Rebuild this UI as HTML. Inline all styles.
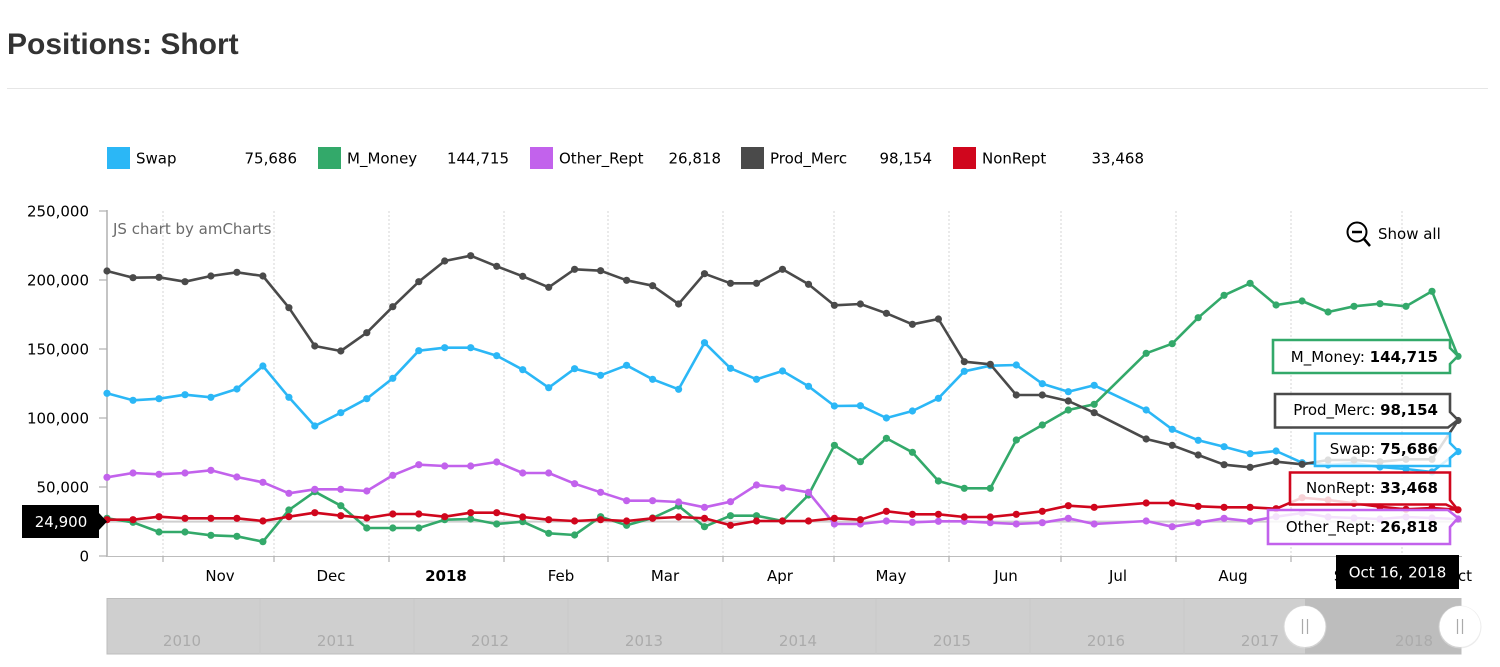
<!DOCTYPE html>
<html>
<head>
<meta charset="utf-8">
<style>
  html,body{margin:0;padding:0;background:#fff;}
  body{width:1500px;height:667px;overflow:hidden;}
  svg{display:block;}
  .t{font-family:"DejaVu Sans","Liberation Sans",sans-serif;font-size:15px;}
</style>
</head>
<body>
<svg width="1500" height="667" viewBox="0 0 1500 667" xmlns="http://www.w3.org/2000/svg">
  <defs>
    <marker id="mSwap" markerUnits="userSpaceOnUse" markerWidth="10" markerHeight="10" refX="5" refY="5"><circle cx="5" cy="5" r="3.6" fill="#2bb7f6"/></marker>
    <marker id="mMM" markerUnits="userSpaceOnUse" markerWidth="10" markerHeight="10" refX="5" refY="5"><circle cx="5" cy="5" r="3.6" fill="#33a96a"/></marker>
    <marker id="mOR" markerUnits="userSpaceOnUse" markerWidth="10" markerHeight="10" refX="5" refY="5"><circle cx="5" cy="5" r="3.6" fill="#c262ec"/></marker>
    <marker id="mPM" markerUnits="userSpaceOnUse" markerWidth="10" markerHeight="10" refX="5" refY="5"><circle cx="5" cy="5" r="3.6" fill="#4a4a4a"/></marker>
    <marker id="mNR" markerUnits="userSpaceOnUse" markerWidth="10" markerHeight="10" refX="5" refY="5"><circle cx="5" cy="5" r="3.6" fill="#d0061d"/></marker>
  </defs>

  <rect x="0" y="0" width="1500" height="667" fill="#fff"/>

  <!-- Title -->
  <text x="7" y="54" font-family="'Liberation Sans',sans-serif" font-weight="bold" font-size="30" fill="#333">Positions: Short</text>
  <line x1="7" y1="88.5" x2="1488" y2="88.5" stroke="#e6e6e6" stroke-width="1"/>

  <!-- Legend -->
  <g class="t" fill="#000">
    <rect x="107" y="147" width="23" height="22" fill="#2bb7f6"/>
    <text x="136" y="163.5">Swap</text>
    <text x="297" y="163.5" text-anchor="end">75,686</text>

    <rect x="318" y="147" width="23" height="22" fill="#33a96a"/>
    <text x="347" y="163.5">M_Money</text>
    <text x="509" y="163.5" text-anchor="end">144,715</text>

    <rect x="530" y="147" width="23" height="22" fill="#c262ec"/>
    <text x="559" y="163.5">Other_Rept</text>
    <text x="721" y="163.5" text-anchor="end">26,818</text>

    <rect x="741" y="147" width="23" height="22" fill="#4a4a4a"/>
    <text x="770" y="163.5">Prod_Merc</text>
    <text x="932" y="163.5" text-anchor="end">98,154</text>

    <rect x="953" y="147" width="23" height="22" fill="#d0061d"/>
    <text x="982" y="163.5">NonRept</text>
    <text x="1144" y="163.5" text-anchor="end">33,468</text>
  </g>

  <!-- Vertical grid lines -->
  <g stroke="#d6d6d6" stroke-width="1" stroke-dasharray="2,2">
    <line x1="163" y1="211" x2="163" y2="556"/>
    <line x1="274" y1="211" x2="274" y2="556"/>
    <line x1="389" y1="211" x2="389" y2="556"/>
    <line x1="504" y1="211" x2="504" y2="556"/>
    <line x1="608" y1="211" x2="608" y2="556"/>
    <line x1="723" y1="211" x2="723" y2="556"/>
    <line x1="834" y1="211" x2="834" y2="556"/>
    <line x1="949" y1="211" x2="949" y2="556"/>
    <line x1="1061" y1="211" x2="1061" y2="556"/>
    <line x1="1176" y1="211" x2="1176" y2="556"/>
    <line x1="1291" y1="211" x2="1291" y2="556"/>
    <line x1="1402" y1="211" x2="1402" y2="556"/>
  </g>

  <!-- Axes -->
  <line x1="107" y1="210" x2="107" y2="557" stroke="#b0b0b0" stroke-width="1.5"/>
  <line x1="107" y1="556.5" x2="1462" y2="556.5" stroke="#bdbdbd" stroke-width="1"/>
  <g stroke="#b0b0b0" stroke-width="1.2">
    <line x1="99" y1="211" x2="107" y2="211"/>
    <line x1="99" y1="280" x2="107" y2="280"/>
    <line x1="99" y1="349" x2="107" y2="349"/>
    <line x1="99" y1="418" x2="107" y2="418"/>
    <line x1="99" y1="487" x2="107" y2="487"/>
    <line x1="99" y1="556" x2="107" y2="556"/>
    <line x1="163" y1="556" x2="163" y2="562"/>
    <line x1="274" y1="556" x2="274" y2="562"/>
    <line x1="389" y1="556" x2="389" y2="562"/>
    <line x1="504" y1="556" x2="504" y2="562"/>
    <line x1="608" y1="556" x2="608" y2="562"/>
    <line x1="723" y1="556" x2="723" y2="562"/>
    <line x1="834" y1="556" x2="834" y2="562"/>
    <line x1="949" y1="556" x2="949" y2="562"/>
    <line x1="1061" y1="556" x2="1061" y2="562"/>
    <line x1="1176" y1="556" x2="1176" y2="562"/>
    <line x1="1291" y1="556" x2="1291" y2="562"/>
    <line x1="1402" y1="556" x2="1402" y2="562"/>
  </g>

  <!-- Y labels -->
  <g class="t" fill="#000" text-anchor="end">
    <text x="89" y="216.5">250,000</text>
    <text x="89" y="285.5">200,000</text>
    <text x="89" y="354.5">150,000</text>
    <text x="89" y="423.5">100,000</text>
    <text x="89" y="492.5">50,000</text>
    <text x="89" y="561.5">0</text>
  </g>

  <!-- X labels -->
  <g class="t" fill="#000" text-anchor="middle">
    <text x="220" y="581">Nov</text>
    <text x="331" y="581">Dec</text>
    <text x="446" y="581" font-weight="bold">2018</text>
    <text x="561" y="581">Feb</text>
    <text x="665" y="581">Mar</text>
    <text x="780" y="581">Apr</text>
    <text x="891" y="581">May</text>
    <text x="1006" y="581">Jun</text>
    <text x="1118" y="581">Jul</text>
    <text x="1233" y="581">Aug</text>
    <text x="1348" y="581">Sep</text>
    <text x="1459" y="581">Oct</text>
  </g>

  <!-- credits -->
  <text x="113" y="234" class="t" fill="#6b6b6b">JS chart by amCharts</text>

  <!-- Show all -->
  <g stroke="#000" fill="none" stroke-width="2">
    <circle cx="1357" cy="232" r="9.5"/>
    <line x1="1352" y1="232" x2="1362" y2="232" stroke-width="2.5"/>
    <line x1="1364" y1="239" x2="1370" y2="246" stroke-width="2.5"/>
  </g>
  <text x="1378" y="239" class="t" fill="#000">Show all</text>

  <!-- cursor horizontal line -->
  <line x1="107" y1="521.6" x2="1462" y2="521.6" stroke="#cfcfcf" stroke-width="2"/>

  <!-- Series -->
  <g fill="none" stroke-width="2.6" stroke-linejoin="round" stroke-linecap="round">
    <polyline stroke="#2bb7f6" marker-start="url(#mSwap)" marker-mid="url(#mSwap)" marker-end="url(#mSwap)"
      points="107,393.3 133,400.3 159,398.7 185,394.7 210.9,397.3 236.9,389 262.9,366 288.9,397.3 314.8,426 340.8,412.7 366.8,398.7 392.8,378.3 418.8,350.7 444.7,347.7 470.7,347.7 496.7,355.7 522.7,369.7 548.7,387.7 574.6,368.7 600.6,375.3 626.6,365.3 652.6,379.3 678.6,389.3 704.5,342.7 730.5,368.3 756.5,379.3 782.5,371 808.5,386.3 834.4,406 860.4,405.7 886.4,418 912.4,411 938.4,398.3 964.3,371.3 990.3,365.7 1016.3,365 1042.3,383.7 1068.3,391.7 1094.2,385.3 1146.2,410 1172.2,429.3 1198.2,440.3 1224.1,446.7 1250.1,453.7 1276.1,451 1302.1,462.7 1328.1,465 1354,463 1380,467 1406,469 1432,472 1458,451.6"/>
    <polyline stroke="#33a96a" marker-start="url(#mMM)" marker-mid="url(#mMM)" marker-end="url(#mMM)"
      points="107,518.3 133,522.3 159,532 185,532 210.9,535.3 236.9,536.3 262.9,541.7 288.9,510 314.8,491.7 340.8,505.7 366.8,528 392.8,528 418.8,528 444.7,519.7 470.7,519 496.7,524 522.7,521.7 548.7,533.3 574.6,535 600.6,516.7 626.6,525.3 652.6,518 678.6,506 704.5,526.7 730.5,515.7 756.5,515.7 782.5,521 808.5,495 834.4,445.3 860.4,461.7 886.4,438.3 912.4,452.3 938.4,481 964.3,488.3 990.3,488.3 1016.3,440 1042.3,425 1068.3,410 1094.2,404.3 1146.2,353.3 1172.2,343.7 1198.2,317.7 1224.1,295.3 1250.1,283.3 1276.1,305 1302.1,301 1328.1,312 1354,306.3 1380,303.7 1406,306.3 1432,291.3 1458,356.3"/>
    <polyline stroke="#c262ec" marker-start="url(#mOR)" marker-mid="url(#mOR)" marker-end="url(#mOR)"
      points="107,477.3 133,473 159,474.3 185,473 210.9,470.3 236.9,477 262.9,482.3 288.9,493.3 314.8,489.3 340.8,489.3 366.8,491 392.8,475.3 418.8,464.7 444.7,466 470.7,466 496.7,462 522.7,473 548.7,473 574.6,483.7 600.6,492.3 626.6,500.7 652.6,500.7 678.6,502 704.5,507.3 730.5,501.7 756.5,485 782.5,488 808.5,492.3 834.4,524 860.4,524 886.4,521 912.4,522.3 938.4,521.3 964.3,521.3 990.3,522.7 1016.3,524 1042.3,522.7 1068.3,518.3 1094.2,524 1146.2,521 1172.2,526.7 1198.2,522.7 1224.1,518.3 1250.1,521.3 1276.1,516.7 1302.1,513 1328.1,517 1354,518 1380,519 1406,517 1432,518 1458,519"/>
    <polyline stroke="#4a4a4a" marker-start="url(#mPM)" marker-mid="url(#mPM)" marker-end="url(#mPM)"
      points="107,271 133,277.7 159,277.3 185,281.7 210.9,276 236.9,272.3 262.9,276 288.9,307.7 314.8,346 340.8,351 366.8,332.7 392.8,306.7 418.8,281.7 444.7,261 470.7,255.7 496.7,266.3 522.7,276.3 548.7,287.3 574.6,269.3 600.6,270.7 626.6,280.3 652.6,285.7 678.6,304 704.5,273.7 730.5,283.3 756.5,283.3 782.5,269.3 808.5,284.3 834.4,305.3 860.4,304 886.4,313.3 912.4,324.3 938.4,319 964.3,361.7 990.3,364.3 1016.3,395 1042.3,395 1068.3,401 1094.2,412.7 1146.2,439 1172.2,445.3 1198.2,455 1224.1,464.7 1250.1,467.3 1276.1,461.7 1302.1,464.3 1328.1,460 1354,460 1380,461.7 1406,459.3 1432,459.3 1458,420.5"/>
    <polyline stroke="#d0061d" marker-start="url(#mNR)" marker-mid="url(#mNR)" marker-end="url(#mNR)"
      points="107,519.7 133,519.7 159,516.7 185,518.3 210.9,518.3 236.9,518.3 262.9,521 288.9,516.7 314.8,512.7 340.8,515.7 366.8,518 392.8,514 418.8,514 444.7,516.7 470.7,512.7 496.7,512.7 522.7,517 548.7,519.7 574.6,521 600.6,519.7 626.6,521 652.6,518.3 678.6,517 704.5,518.3 730.5,525.3 756.5,521 782.5,521 808.5,521 834.4,518.3 860.4,519.7 886.4,511.3 912.4,514.3 938.4,514.3 964.3,517 990.3,517 1016.3,514.3 1042.3,511.3 1068.3,505.7 1094.2,507.3 1146.2,503 1172.2,503 1198.2,506.3 1224.1,507.3 1250.1,507.3 1276.1,508.7 1302.1,497.7 1328.1,500 1354,503.3 1380,506.7 1406,509.3 1432,508 1458,509.8"/>
  </g>

  <!-- Value balloons -->
  <g stroke-width="2.6" fill="#fff" fill-opacity="0.82" stroke-linejoin="miter">
    <path d="M1273,340 H1450 V348 L1458,356 L1450,364 V373 H1273 Z" stroke="#33a96a"/>
    <path d="M1275,394 H1450 V412 L1458,420 L1448,427.5 H1275 Z" stroke="#4a4a4a"/>
    <path d="M1315,433.5 H1450 V443 L1458,451 L1450,458 V466 H1315 Z" stroke="#2bb7f6"/>
    <path d="M1290,472.5 H1450 V500 L1458,510 L1446,504.5 H1290 Z" stroke="#d0061d"/>
    <path d="M1268,510 H1448 L1458,518 L1450,527 V544 H1268 Z" stroke="#c262ec"/>
  </g>
  <g class="t" fill="#000" text-anchor="end">
    <text x="1438" y="362">M_Money: <tspan font-weight="bold">144,715</tspan></text>
    <text x="1438" y="415">Prod_Merc: <tspan font-weight="bold">98,154</tspan></text>
    <text x="1438" y="454">Swap: <tspan font-weight="bold">75,686</tspan></text>
    <text x="1438" y="493">NonRept: <tspan font-weight="bold">33,468</tspan></text>
    <text x="1438" y="532">Other_Rept: <tspan font-weight="bold">26,818</tspan></text>
  </g>

  <!-- Y cursor balloon -->
  <rect x="22" y="505" width="77" height="33" fill="#000"/>
  <path d="M99,513 L107,521.6 L99,530 Z" fill="#000"/>
  <text x="61" y="527" class="t" fill="#fff" text-anchor="middle">24,900</text>

  <!-- Date balloon -->
  <rect x="1336" y="555" width="123" height="34" fill="#000"/>
  <text x="1397.5" y="577.5" class="t" fill="#fff" text-anchor="middle">Oct 16, 2018</text>

  <!-- Scrollbar -->
  <rect x="107" y="598.5" width="1354" height="55.5" fill="#cfcfcf" stroke="#bdbdbd" stroke-width="1"/>
  <rect x="1305" y="599" width="156" height="55" fill="#bdbdbd"/>
  <g stroke="#cacaca" stroke-width="1">
    <line x1="260" y1="599" x2="260" y2="654"/>
    <line x1="414" y1="599" x2="414" y2="654"/>
    <line x1="568" y1="599" x2="568" y2="654"/>
    <line x1="722" y1="599" x2="722" y2="654"/>
    <line x1="876" y1="599" x2="876" y2="654"/>
    <line x1="1030" y1="599" x2="1030" y2="654"/>
    <line x1="1184" y1="599" x2="1184" y2="654"/>
  </g>
  <g class="t" fill="#ababab" text-anchor="middle">
    <text x="182" y="646">2010</text>
    <text x="336" y="646">2011</text>
    <text x="490" y="646">2012</text>
    <text x="644" y="646">2013</text>
    <text x="798" y="646">2014</text>
    <text x="952" y="646">2015</text>
    <text x="1106" y="646">2016</text>
    <text x="1260" y="646">2017</text>
    <text x="1414" y="646">2018</text>
  </g>
  <!-- handles -->
  <circle cx="1305" cy="627" r="21.5" fill="#e0e0e0" opacity="0.6"/>
  <circle cx="1305" cy="626.5" r="20.5" fill="#fff"/>
  <line x1="1302.5" y1="619" x2="1302.5" y2="634" stroke="#aaa" stroke-width="1.2"/>
  <line x1="1307.5" y1="619" x2="1307.5" y2="634" stroke="#aaa" stroke-width="1.2"/>
  <circle cx="1460" cy="627" r="21.5" fill="#e0e0e0" opacity="0.6"/>
  <circle cx="1460" cy="626.5" r="20.5" fill="#fff"/>
  <line x1="1457.5" y1="619" x2="1457.5" y2="634" stroke="#aaa" stroke-width="1.2"/>
  <line x1="1462.5" y1="619" x2="1462.5" y2="634" stroke="#aaa" stroke-width="1.2"/>
</svg>
</body>
</html>
